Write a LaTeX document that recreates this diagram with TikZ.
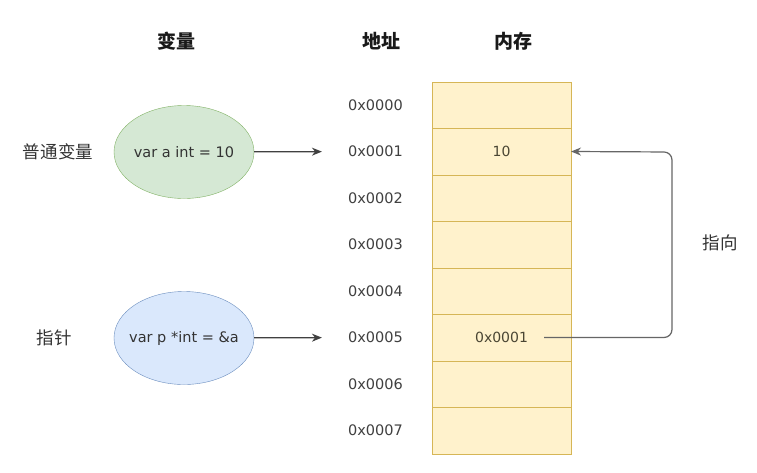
\documentclass[tikz,border=0pt]{standalone}
\usepackage{fontspec}
\setmainfont{DejaVu Sans}
\newfontfamily\cjk{Noto Sans CJK SC}
\usetikzlibrary{arrows.meta,positioning,shapes.geometric}

\definecolor{memfill}{HTML}{FFF2CC}
\definecolor{memline}{HTML}{D6B656}
\definecolor{memtext}{HTML}{4A4633}
\definecolor{varfill}{HTML}{D5E8D4}
\definecolor{varline}{HTML}{82B366}
\definecolor{ptrfill}{HTML}{DAE8FC}
\definecolor{ptrline}{HTML}{6C8EBF}

\begin{document}
\begin{tikzpicture}[x=1pt, y=-1pt,
    % --- Styles ---
    header/.style={font=\cjk\bfseries\fontsize{19}{21}\selectfont, text=black!90},
    side/.style={font=\cjk\fontsize{17.5}{19}\selectfont, text=black!80},
    addr/.style={font=\fontsize{14.5}{16}\selectfont, text=black!75, inner sep=0pt},
    cell/.style={draw=memline, fill=memfill, minimum width=139pt,
                 minimum height=46.5pt, outer sep=0pt,
                 font=\fontsize{14}{16}\selectfont, text=memtext},
    varnode/.style={ellipse, draw=varline, fill=varfill, minimum width=140pt,
                    minimum height=93pt, inner xsep=-14pt, inner ysep=0pt,
                    font=\fontsize{14.5}{16}\selectfont, text=black!80},
    ptrnode/.style={varnode, draw=ptrline, fill=ptrfill},
    link/.style={-{Stealth[length=10pt,width=8pt]}, draw=black!75, line width=1.2pt},
]
\fill[white] (0,0) rectangle (757,472);

% === Column headers ===
\node[header] (hvar)  at (176,41) {变量};
\node[header] (haddr) at (381,41) {地址};
\node[header] (hmem)  at (513,41) {内存};

% === Memory cells top to bottom ===
\node[cell] (m0) at (501.5,105) {};
\node[cell, below=0pt of m0] (m1) {10};
\node[cell, below=0pt of m1] (m2) {};
\node[cell, below=0pt of m2] (m3) {};
\node[cell, below=0pt of m3] (m4) {};
\node[cell, below=0pt of m4] (m5) {0x0001};
\node[cell, below=0pt of m5] (m6) {};
\node[cell, below=0pt of m6] (m7) {};

% === Addresses on the left ===
\node[addr, left=29pt of m0] (a0) {0x0000};
\node[addr, left=29pt of m1] (a1) {0x0001};
\node[addr, left=29pt of m2] (a2) {0x0002};
\node[addr, left=29pt of m3] (a3) {0x0003};
\node[addr, left=29pt of m4] (a4) {0x0004};
\node[addr, left=29pt of m5] (a5) {0x0005};
\node[addr, left=29pt of m6] (a6) {0x0006};
\node[addr, left=29pt of m7] (a7) {0x0007};

% === Variables ===
\node[varnode] (va) at (184,152) {var a int = 10};
\node[ptrnode] (vp) at (184,338) {var p *int = \&a};
\node[side] (lva) at (58,152) {普通变量};
\node[side] (lvp) at (54,338) {指针};

\draw[link, shorten >=26pt] (va) -- (a1);
\draw[link, shorten >=26pt] (vp) -- (a5);

% === Pointer back to a ===
\coordinate (src)  at ([xshift=42.5pt]m5.center);
\coordinate (bend) at (672,152);
\draw[link, draw=black!60, rounded corners=8pt] (src) -| (bend) -- (m1.east);
\node[side] (lpt) at (720,243) {指向};

\end{tikzpicture}
\end{document}
